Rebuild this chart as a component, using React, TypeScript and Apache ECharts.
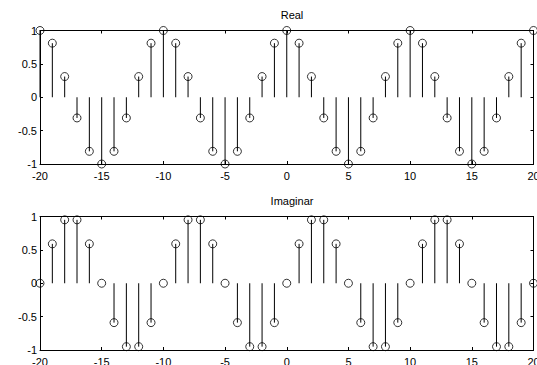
import React, { useEffect, useRef } from "react";
import * as echarts from "echarts";

const nValues: number[] = [
  -20, -19, -18, -17, -16, -15, -14, -13, -12, -11, -10, -9, -8, -7, -6, -5, -4, -3, -2, -1,
  0, 1, 2, 3, 4, 5, 6, 7, 8, 9, 10, 11, 12, 13, 14, 15, 16, 17, 18, 19, 20,
];

const realValues: number[] = [
  1, 0.81, 0.31, -0.31, -0.81, -1, -0.81, -0.31, 0.31, 0.81,
  1, 0.81, 0.31, -0.31, -0.81, -1, -0.81, -0.31, 0.31, 0.81,
  1, 0.81, 0.31, -0.31, -0.81, -1, -0.81, -0.31, 0.31, 0.81,
  1, 0.81, 0.31, -0.31, -0.81, -1, -0.81, -0.31, 0.31, 0.81,
  1,
];

const imagValues: number[] = [
  0, 0.59, 0.95, 0.95, 0.59, 0, -0.59, -0.95, -0.95, -0.59,
  0, 0.59, 0.95, 0.95, 0.59, 0, -0.59, -0.95, -0.95, -0.59,
  0, 0.59, 0.95, 0.95, 0.59, 0, -0.59, -0.95, -0.95, -0.59,
  0, 0.59, 0.95, 0.95, 0.59, 0, -0.59, -0.95, -0.95, -0.59,
  0,
];

const titles: string[] = ["Real", "Imaginar"];

const FONT = "Liberation Sans, Arial, sans-serif";

export default function App() {
  const ref = useRef<HTMLDivElement>(null);
  useEffect(() => {
    if (!ref.current) return;
    document.body.style.margin = "0";
    const chart = echarts.init(ref.current, undefined, { renderer: "svg", width: 537, height: 365 });
    const gridLeft = 40;
    const gridRight = 3.5;
    const gridHeight = 133.5;
    const tops = [30.5, 216.5];
    const datasets = [realValues, imagValues];

    const grids: any[] = [];
    const xAxes: any[] = [];
    const yAxes: any[] = [];
    const series: any[] = [];
    const titleList: any[] = [];

    tops.forEach((top, g) => {
      grids.push({
        left: gridLeft,
        right: gridRight,
        top,
        height: gridHeight,
        show: false,
        containLabel: false,
        outerBoundsMode: "none",
      });
      const axisLine = { show: true, onZero: false, lineStyle: { color: "#000", width: 1 } };
      const axisTick = { show: true, inside: true, length: 3, lineStyle: { color: "#000" } };
      xAxes.push({
        gridIndex: g,
        type: "value",
        min: -20,
        max: 20,
        interval: 5,
        position: "bottom",
        axisLine,
        axisTick,
        splitLine: { show: false },
        axisLabel: { color: "#000", fontSize: 11, fontFamily: FONT, margin: 6 },
      });
      xAxes.push({
        gridIndex: g,
        type: "value",
        min: -20,
        max: 20,
        interval: 5,
        position: "top",
        axisLine,
        axisTick,
        splitLine: { show: false },
        axisLabel: { show: false },
      });
      yAxes.push({
        gridIndex: g,
        type: "value",
        min: -1,
        max: 1,
        interval: 0.5,
        position: "left",
        axisLine,
        axisTick,
        splitLine: { show: false },
        axisLabel: { color: "#000", fontSize: 11, fontFamily: FONT, margin: 3 },
      });
      yAxes.push({
        gridIndex: g,
        type: "value",
        min: -1,
        max: 1,
        interval: 0.5,
        position: "right",
        axisLine,
        axisTick,
        splitLine: { show: false },
        axisLabel: { show: false },
      });

      const data = nValues.map((n, i) => [n, datasets[g][i]]);
      series.push({
        type: "custom",
        xAxisIndex: g * 2,
        yAxisIndex: g * 2,
        data,
        clip: false,
        renderItem: (params: any, api: any) => {
          const p1 = api.coord([api.value(0), 0]);
          const p2 = api.coord([api.value(0), api.value(1)]);
          return {
            type: "line",
            shape: { x1: p1[0], y1: p1[1], x2: p2[0], y2: p2[1] },
            style: { stroke: "#000", lineWidth: 1 },
          };
        },
        z: 2,
      });
      series.push({
        type: "scatter",
        xAxisIndex: g * 2,
        yAxisIndex: g * 2,
        data,
        symbol: "circle",
        symbolSize: 8,
        clip: false,
        itemStyle: { color: "rgba(255,255,255,0)", borderColor: "#000", borderWidth: 1 },
        z: 3,
      });
      titleList.push({
        text: titles[g],
        left: 287,
        top: top - 26,
        textAlign: "center",
        textStyle: { fontSize: 11, fontWeight: "normal", color: "#000", fontFamily: FONT },
      });
    });

    chart.setOption({
      animation: false,
      backgroundColor: "#fff",
      title: titleList,
      grid: grids,
      xAxis: xAxes,
      yAxis: yAxes,
      series,
    });
    return () => chart.dispose();
  }, []);
  return <div ref={ref} style={{ width: 537, height: 365, position: "absolute", left: 0, top: 0 }} />;
}
